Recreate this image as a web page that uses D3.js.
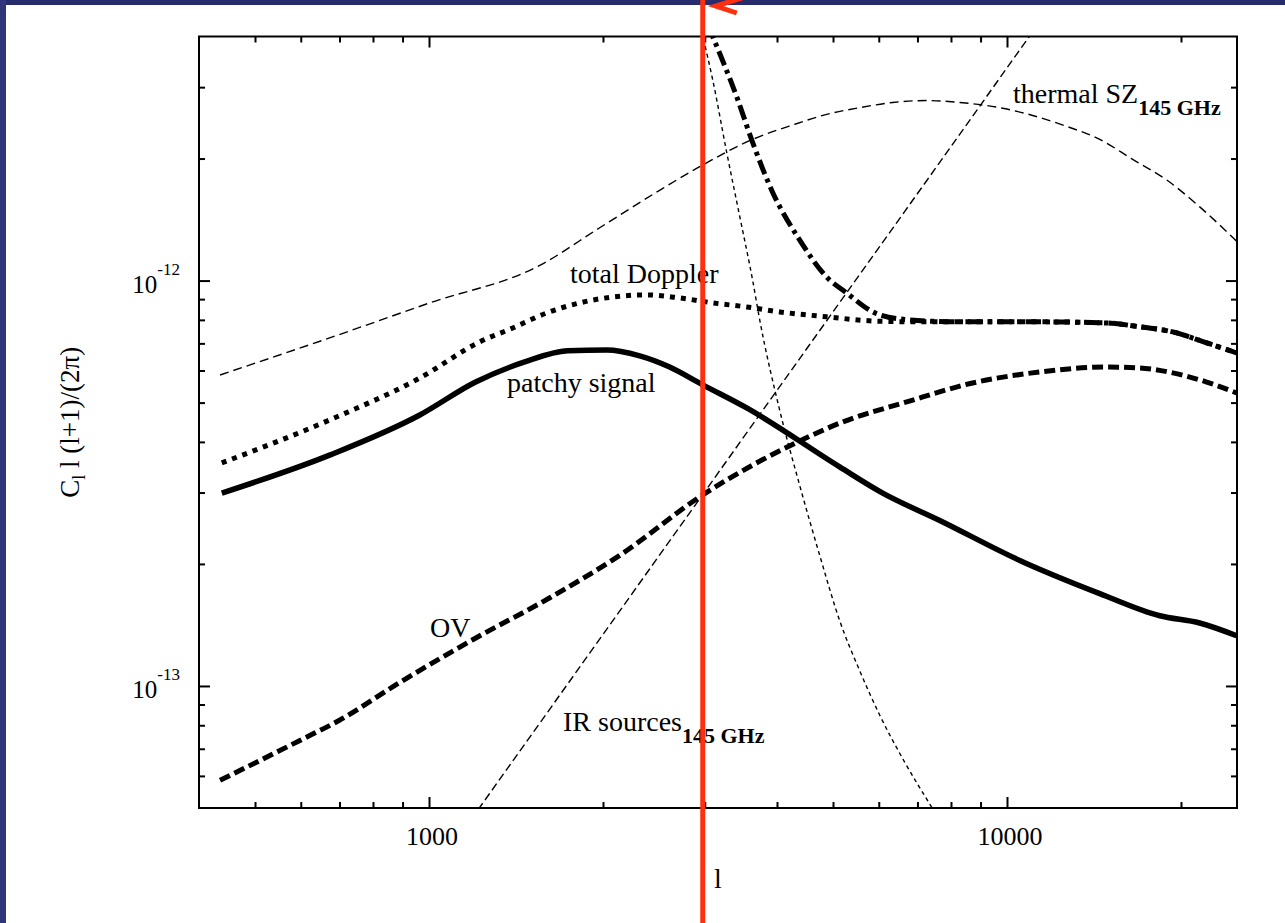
<!DOCTYPE html>
<html>
<head>
<meta charset="utf-8">
<script src="https://cdn.jsdelivr.net/npm/d3@7"></script>
<style>
  html, body { margin: 0; padding: 0; background: #fff; }
  svg { display: block; }
  text { font-family: "Liberation Serif", "Times New Roman", serif; fill: #000; white-space: pre; }
</style>
</head>
<body>
<svg id="chart" width="1285" height="923"></svg>
<script>
// Angular power spectra, pairs of [multipole l, C_l l(l+1)/(2π)]
const thermalSZ = [
  [435, 5.85e-13], [673, 7.22e-13], [1003, 8.81e-13], [1555, 1.09e-12], [1974, 1.35e-12],
  [2506, 1.67e-12], [2940, 1.91e-12], [3631, 2.23e-12], [4257, 2.42e-12], [4876, 2.57e-12],
  [5562, 2.67e-12], [6344, 2.75e-12], [7263, 2.78e-12], [8284, 2.75e-12], [9714, 2.67e-12],
  [12690, 2.40e-12], [14470, 2.23e-12], [16503, 1.99e-12], [18899, 1.77e-12], [21549, 1.52e-12],
  [24970, 1.25e-12]
];
const irSources = [
  [1150, 4.43e-14], [2000, 1.34e-13], [4000, 5.36e-13], [8000, 2.14e-12], [11500, 4.43e-12]
];
const primaryCMB = [
  [2940, 4.28e-12], [2976, 4.00e-12], [3096, 3.13e-12], [3274, 2.07e-12], [3448, 1.44e-12],
  [3631, 1.00e-12], [3734, 8.00e-13], [4043, 4.79e-13], [4377, 3.13e-13], [4742, 2.10e-13],
  [5134, 1.45e-13], [5562, 1.09e-13], [6024, 8.47e-14], [6655, 6.48e-14], [7410, 5.02e-14],
  [7650, 4.66e-14]
];
const totalWithPrimary = [
  [3035, 4.28e-12], [3096, 4.00e-12], [3407, 2.84e-12], [3631, 2.19e-12], [3932, 1.65e-12],
  [4377, 1.26e-12], [4876, 1.02e-12], [5280, 9.32e-13], [5857, 8.37e-13], [6523, 8.04e-13],
  [8284, 7.91e-13], [8722, 7.91e-13], [11394, 7.91e-13], [14877, 7.86e-13], [16969, 7.69e-13],
  [19356, 7.47e-13], [22159, 7.02e-13], [24970, 6.63e-13]
];
const totalDoppler = [
  [438, 3.55e-13], [673, 4.53e-13], [964, 5.75e-13], [1224, 7.06e-13], [1396, 7.64e-13],
  [1598, 8.32e-13], [1823, 8.81e-13], [2079, 9.11e-13], [2380, 9.22e-13], [2715, 9.06e-13],
  [3096, 8.81e-13], [3545, 8.61e-13], [4043, 8.37e-13], [4876, 8.14e-13], [5857, 7.95e-13],
  [6523, 7.92e-13], [8722, 7.91e-13], [11394, 7.91e-13], [14877, 7.86e-13], [16969, 7.69e-13],
  [19356, 7.47e-13], [22159, 7.02e-13], [24970, 6.63e-13]
];
const patchySignal = [
  [438, 2.99e-13], [673, 3.71e-13], [964, 4.66e-13], [1204, 5.62e-13], [1464, 6.30e-13],
  [1738, 6.71e-13], [2030, 6.74e-13], [2315, 6.52e-13], [2608, 6.12e-13], [2976, 5.53e-13],
  [3545, 4.85e-13], [5134, 3.47e-13], [6095, 2.99e-13], [7650, 2.56e-13], [10520, 2.04e-13],
  [14470, 1.69e-13], [18381, 1.49e-13], [21549, 1.43e-13], [24970, 1.33e-13]
];
const ovEffect = [
  [435, 5.85e-14], [598, 7.34e-14], [700, 8.23e-14], [890, 1.02e-13], [1190, 1.30e-13],
  [1618, 1.65e-13], [2138, 2.10e-13], [2976, 2.96e-13], [4377, 4.02e-13], [5196, 4.48e-13],
  [6707, 5.02e-13], [8722, 5.59e-13], [11394, 5.95e-13], [14877, 6.12e-13], [16969, 6.09e-13],
  [19356, 5.92e-13], [22159, 5.62e-13], [24970, 5.28e-13]
];

// axis ticks
const ellRange = [400, 25000];
const clRange = [5e-14, 4e-12];
const ellMajorTicks = [1000, 10000];
const ellMajorLabels = ["1000", "10000"];
const ellMinorTicks = [500, 600, 700, 800, 900, 2000, 3000, 4000, 5000, 6000, 7000, 8000, 9000, 20000];
const clMajorTicks = [1e-13, 1e-12];
const clMajorExponents = ["-13", "-12"];
const clMinorTicks = [6e-14, 7e-14, 8e-14, 9e-14, 2e-13, 3e-13, 4e-13, 5e-13, 6e-13, 7e-13, 8e-13, 9e-13, 2e-12, 3e-12];
const markerEll = 2976; // vertical marker position

const svg = d3.select("#chart");
const W = 1285, H = 923;
const plot = { left: 199, right: 1237, top: 36.5, bottom: 808 };

svg.append("rect").attr("width", W).attr("height", H).attr("fill", "#fff");
// slide border
svg.append("rect").attr("x", 0).attr("y", 0).attr("width", W).attr("height", 5).attr("fill", "#282b6c");
svg.append("rect").attr("x", 0).attr("y", 0).attr("width", 6).attr("height", H).attr("fill", "#30357a");

const x = d3.scaleLog().domain(ellRange).range([plot.left, plot.right]);
const y = d3.scaleLog().domain(clRange).range([plot.bottom, plot.top]);

svg.append("clipPath").attr("id", "plotClip")
  .append("rect")
  .attr("x", plot.left).attr("y", plot.top)
  .attr("width", plot.right - plot.left).attr("height", plot.bottom - plot.top);

const smooth = d3.line().x(d => x(d[0])).y(d => y(d[1])).curve(d3.curveMonotoneX);
const straight = d3.line().x(d => x(d[0])).y(d => y(d[1]));

const curves = [
  { data: thermalSZ, gen: smooth, width: 1.4, dash: "9,5" },
  { data: irSources, gen: straight, width: 1.4, dash: "8,4" },
  { data: primaryCMB, gen: smooth, width: 1.4, dash: "4,3.5" },
  { data: ovEffect, gen: smooth, width: 5, dash: "11,5" },
  { data: patchySignal, gen: smooth, width: 5.5, dash: null },
  { data: totalWithPrimary, gen: smooth, width: 5, dash: "15,5,4,5" },
  { data: totalDoppler, gen: smooth, width: 5, dash: "5,6" }
];

const curveLayer = svg.append("g").attr("clip-path", "url(#plotClip)");
curves.forEach(c => {
  curveLayer.append("path")
    .attr("d", c.gen(c.data))
    .attr("fill", "none")
    .attr("stroke", "#000")
    .attr("stroke-width", c.width)
    .attr("stroke-dasharray", c.dash)
    .attr("stroke-linejoin", "round");
});

// ticks on all four sides, pointing inward
function tickRow(axisFn, scale, values, size, tx, ty) {
  const g = svg.append("g").attr("transform", `translate(${tx},${ty})`)
    .call(axisFn(scale).tickValues(values).tickSize(size).tickFormat(""));
  g.select(".domain").remove();
  g.selectAll("line").attr("stroke", "#000").attr("stroke-width", 2);
}
tickRow(d3.axisBottom, x, ellMajorTicks, -11, 0, plot.bottom);
tickRow(d3.axisBottom, x, ellMinorTicks, -6, 0, plot.bottom);
tickRow(d3.axisTop, x, ellMajorTicks, -11, 0, plot.top);
tickRow(d3.axisTop, x, ellMinorTicks, -6, 0, plot.top);
tickRow(d3.axisLeft, y, clMajorTicks, -11, plot.left, 0);
tickRow(d3.axisLeft, y, clMinorTicks, -6, plot.left, 0);
tickRow(d3.axisRight, y, clMajorTicks, -11, plot.right, 0);
tickRow(d3.axisRight, y, clMinorTicks, -6, plot.right, 0);

svg.append("rect")
  .attr("x", plot.left).attr("y", plot.top)
  .attr("width", plot.right - plot.left).attr("height", plot.bottom - plot.top)
  .attr("fill", "none").attr("stroke", "#000").attr("stroke-width", 2);

// tick labels
ellMajorTicks.forEach((v, i) => {
  svg.append("text")
    .attr("x", x(v) + 3).attr("y", 845)
    .attr("text-anchor", "middle")
    .style("font-size", "26px")
    .text(ellMajorLabels[i]);
});
clMajorTicks.forEach((v, i) => {
  const t = svg.append("text")
    .attr("x", 180).attr("y", y(v) + 12)
    .attr("text-anchor", "end")
    .style("font-size", "25px");
  t.append("tspan").text("10");
  t.append("tspan").attr("dy", -18).style("font-size", "17px").text(clMajorExponents[i]);
});

// axis titles
svg.append("text")
  .attr("x", (plot.left + plot.right) / 2).attr("y", 888)
  .attr("text-anchor", "middle")
  .style("font-size", "28px")
  .text("l");

const yTitle = svg.append("text")
  .attr("transform", `translate(79,${(plot.top + plot.bottom) / 2}) rotate(-90)`)
  .attr("text-anchor", "middle")
  .style("font-size", "27px");
yTitle.append("tspan").text("C");
yTitle.append("tspan").attr("dy", 6).style("font-size", "18px").text("l");
yTitle.append("tspan").attr("dy", -6).text(" l (l+1)/(2\u03c0)");

// curve annotations
function label(px, py, main, sub) {
  const t = svg.append("text").attr("x", px).attr("y", py).style("font-size", "28px");
  t.append("tspan").text(main);
  if (sub) {
    t.append("tspan").attr("dy", 12).style("font-size", "22px").style("font-weight", "bold").text(sub);
  }
}
label(1013, 103, "thermal SZ", "145 GHz");
label(570, 283, "total Doppler");
label(507, 392, "patchy signal");
label(430, 637, "OV");
label(563, 731, "IR sources", "145 GHz");

// red marker line with arrow head
const mx = x(markerEll);
svg.append("line")
  .attr("x1", mx).attr("x2", mx).attr("y1", 0).attr("y2", H)
  .attr("stroke", "#ff2f0f").attr("stroke-width", 5);
svg.append("path")
  .attr("d", `M${mx + 42},-3 L${mx + 13},6 L${mx + 34},13`)
  .attr("fill", "none").attr("stroke", "#ff2f0f").attr("stroke-width", 5)
  .attr("stroke-linejoin", "miter").attr("stroke-linecap", "butt");
</script>
</body>
</html>
